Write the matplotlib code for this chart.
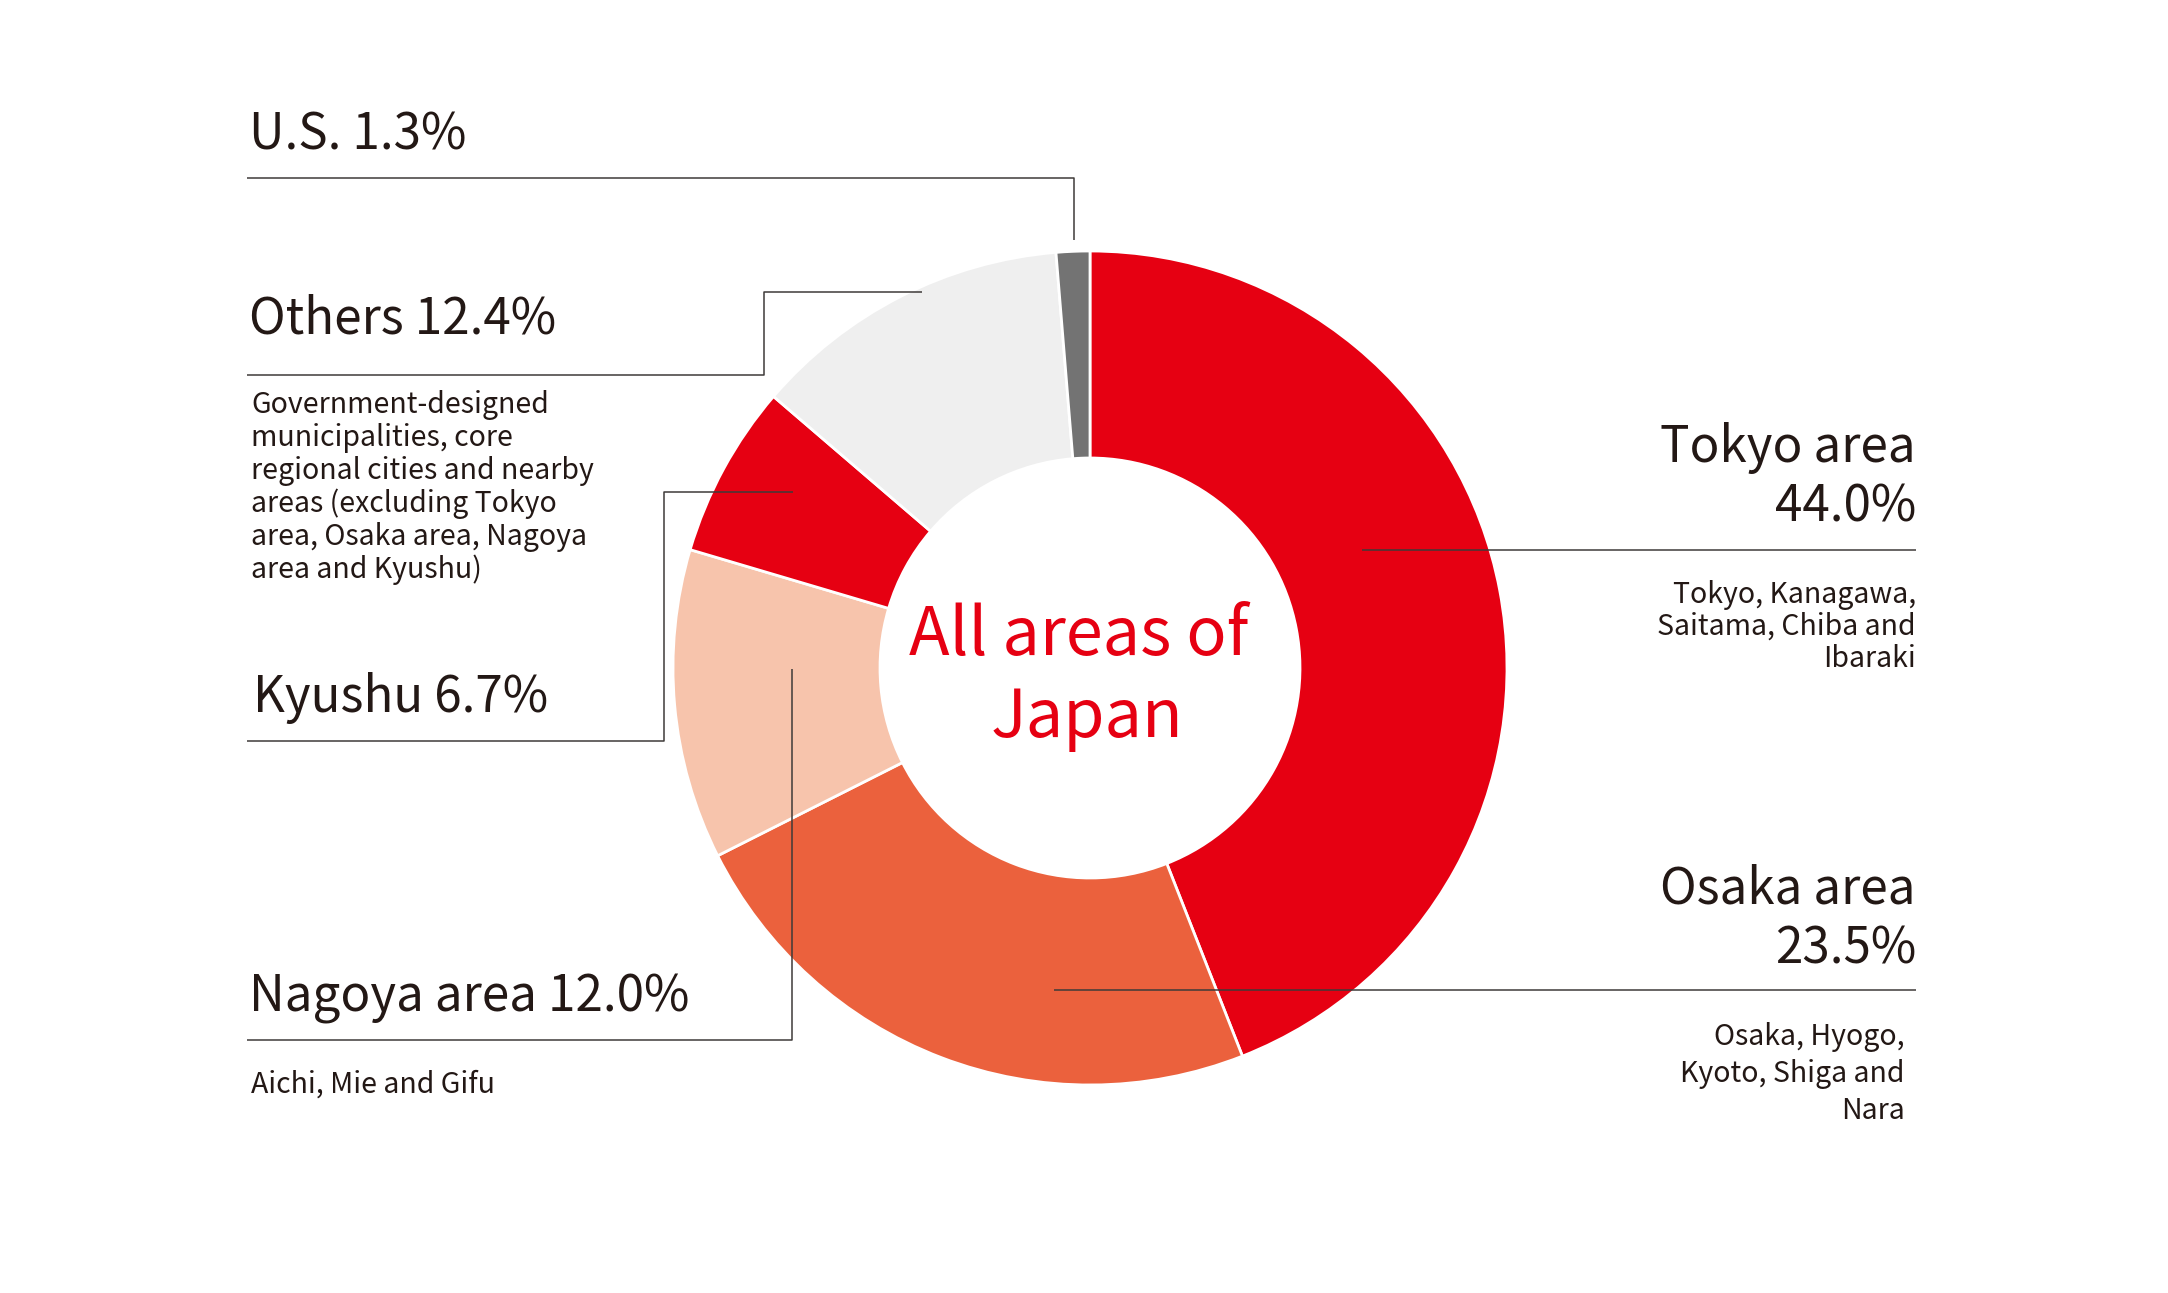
import matplotlib.pyplot as plt

plt.rcParams['font.family'] = ['Noto Sans CJK JP', 'DejaVu Sans']

# Share of properties by area (clockwise from 12 o'clock)
regions = ['Tokyo area', 'Osaka area', 'Nagoya area', 'Kyushu', 'Others', 'U.S.']
shares = [44.0, 23.5, 12.0, 6.7, 12.4, 1.3]
colors = ['#e60012', '#eb613d', '#f7c4ac', '#e60012', '#efefef', '#737373']

tokyo_note = ['Tokyo, Kanagawa,', 'Saitama, Chiba and', 'Ibaraki']
osaka_note = ['Osaka, Hyogo,', 'Kyoto, Shiga and', 'Nara']
nagoya_note = ['Aichi, Mie and Gifu']
others_note = ['Government-designed', 'municipalities, core',
               'regional cities and nearby', 'areas (excluding Tokyo',
               'area, Osaka area, Nagoya', 'area and Kyushu)']
center_text = ['All areas of', 'Japan']

W, H = 2168, 1293
TXT = '#231815'
LINE = '#3e3a39'
BIG = 35.5
SMALL = 20.5

fig = plt.figure(figsize=(W / 100, H / 100), dpi=100)
ax = fig.add_axes([0, 0, 1, 1])

# the y axis gets inverted below, so counterclock=True draws clockwise on screen
ax.pie(shares, colors=colors, startangle=-90, counterclock=True,
       center=(1090, 668), radius=417,
       wedgeprops=dict(width=207, edgecolor='white', linewidth=2))

# pie() resets the limits, so set the pixel-like frame afterwards
ax.set_xlim(0, W)
ax.set_ylim(H, 0)
ax.set_aspect('equal')
ax.axis('off')


def label(x, y, s, size=BIG, ha='left', color=TXT):
    ax.text(x, y, s, fontsize=size, ha=ha, va='baseline', color=color)


def leader(pts):
    xs, ys = zip(*pts)
    ax.plot(xs, ys, color=LINE, lw=1.1, zorder=5, solid_capstyle='butt')


def big(i):
    return f'{regions[i]} {shares[i]:.1f}%'


# U.S.
label(249, 150, big(5))
leader([(247, 178), (1074, 178), (1074, 240)])

# Others
label(249, 333, big(4))
leader([(247, 375), (764, 375), (764, 292), (922, 292)])
for k, line in enumerate(others_note):
    label(251, 413 + 33 * k, line, size=SMALL)

# Kyushu
label(253, 712, big(3))
leader([(247, 741), (664, 741), (664, 492), (793, 492)])

# Nagoya
label(249, 1012, big(2))
leader([(247, 1040), (792, 1040), (792, 669)])
for k, line in enumerate(nagoya_note):
    label(251, 1093 + 33 * k, line, size=SMALL)

# Tokyo
label(1916, 462, regions[0], ha='right')
label(1916, 521, f'{shares[0]:.1f}%', ha='right')
leader([(1362, 550), (1916, 550)])
for k, line in enumerate(tokyo_note):
    label(1916, 603 + 32 * k, line, size=SMALL, ha='right')

# Osaka
label(1916, 904, regions[1], ha='right')
label(1916, 963, f'{shares[1]:.1f}%', ha='right')
leader([(1054, 990), (1916, 990)])
for k, line in enumerate(osaka_note):
    label(1905, 1045 + 37 * k, line, size=SMALL, ha='right')

# centre
label(1079, 655, center_text[0], size=48, ha='center', color='#e60012')
label(1087, 737, center_text[1], size=48, ha='center', color='#e60012')

fig.savefig('out.png', dpi=100, facecolor='white')
